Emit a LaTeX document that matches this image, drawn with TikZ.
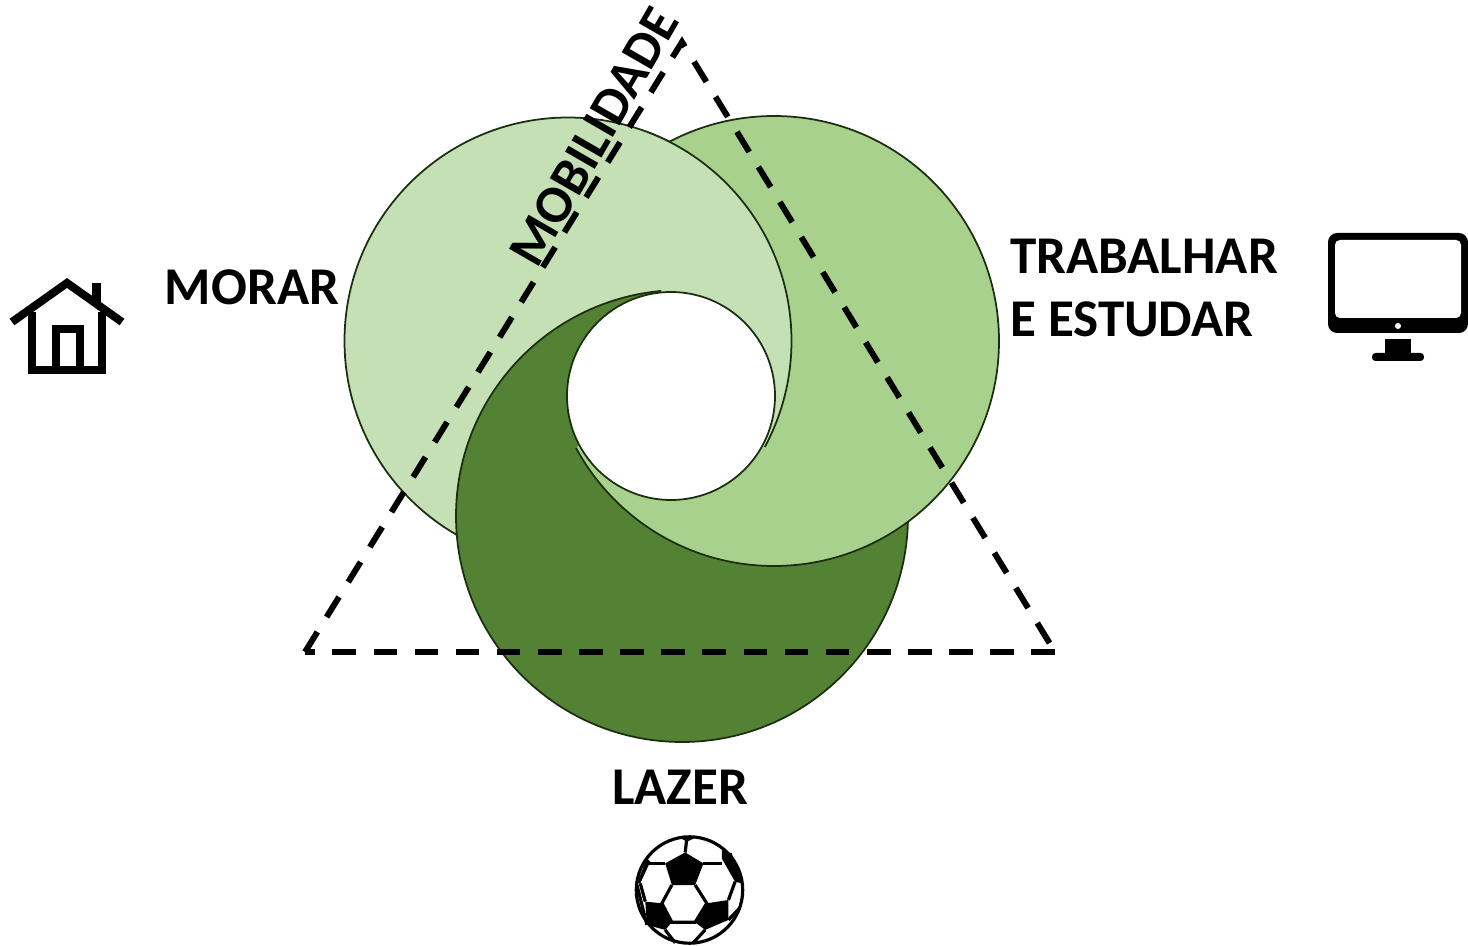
\documentclass[tikz,border=0pt]{standalone}
\usepackage{fontspec}
\setmainfont{Carlito}
\definecolor{claro}{HTML}{C5E0B4}
\definecolor{medio}{HTML}{A9D18E}
\definecolor{escuro}{HTML}{548235}
\definecolor{contorno}{HTML}{1C2E10}
\begin{document}
\begin{tikzpicture}[
	circulo/.style={draw=contorno,line width=0.5pt},
	rotulo/.style={font=\fontsize{15.1}{17.9}\selectfont\bfseries,inner sep=0pt,align=left},
	tracejado/.style={line width=1.7pt,dash pattern=on 6.7pt off 5pt},
	icone/.style={line width=2.3pt,line join=miter},
	bola/.style={line width=0.9pt}]
	\useasboundingbox (0,0) rectangle (14.68,9.46);
	% circulos sobrepostos
	\draw[circulo,fill=claro] (5.68,6.05) circle (2.235);
	\draw[circulo,fill=escuro] (6.82,4.30) circle (2.26);
	\begin{scope}
		\clip (6.71,5.50) -- (6.50,9.40) -- (11,9.40) -- (11,0) -- (4.20,0) -- (4.20,3.40) -- (5.78,5.00) -- cycle;
		\draw[circulo,fill=medio] (7.74,6.05) circle (2.25);
	\end{scope}
	\begin{scope}
		\clip (6.71,5.50) -- (6.35,9.40) -- (11,9.40) -- (11,3.17) -- cycle;
		\draw[circulo,fill=claro] (5.68,6.05) circle (2.235);
	\end{scope}
	% furo central
	\draw[circulo,fill=white] (6.71,5.50) circle (1.04);
	% triangulo tracejado
	\coordinate (esq) at (3.05,2.94);
	\coordinate (dir) at (10.55,2.94);
	\coordinate (topo) at (6.82,9.04);
	\draw[tracejado] (esq) -- (topo) -- (dir);
	\draw[tracejado] (dir) -- (esq);
	% rotulos
	\node[rotulo] (morar) at (2.52,6.59) {MORAR};
	\node[rotulo] (trabalhar) at (11.44,6.58) {TRABALHAR\\E ESTUDAR};
	\node[rotulo] (lazer) at (6.80,1.59) {LAZER};
	\node[rotulo,rotate=60] (mobilidade) at (5.94,8.09) {MOBILIDADE};
	% casa
	\draw[icone] (0.12,6.24) -- (0.67,6.63) -- (1.22,6.24);
	\draw[icone] (0.32,6.34) -- (0.32,5.76) -- (1.02,5.76) -- (1.02,6.34);
	\draw[icone] (0.56,5.76) -- (0.56,6.17) -- (0.80,6.17) -- (0.80,5.76);
	\fill (0.92,6.43) rectangle (1.01,6.63);
	% monitor
	\fill[rounded corners=2.6pt] (13.28,6.13) rectangle (14.68,7.13);
	\fill[white,rounded corners=1.4pt] (13.35,6.28) rectangle (14.61,7.06);
	\fill[white] (13.98,6.20) circle (0.03);
	\fill (13.85,5.93) rectangle (14.11,6.07);
	\fill[rounded corners=1pt] (13.72,5.85) rectangle (14.24,5.93);
	% bola
	\begin{scope}[shift={(6.895,0.56)},x=0.00333cm,y=-0.00333cm]
		\draw[bola] (0,0) circle (160);
		\fill (-73,-80) -- (-13,-113) -- (42,-80) -- (17,-15) -- (-53,-15) -- cycle;
		\fill (-158,-20) -- (-128,-95) -- (-118,-85) -- (-148,-20) -- cycle;
		\fill (97,-120) -- (127,-110) -- (157,-20) -- (137,-25) -- (97,-95) -- cycle;
		\fill (-133,35) -- (-83,40) -- (-53,97) -- (-73,120) -- (-128,105) -- cycle;
		\fill (52,40) -- (117,30) -- (117,90) -- (47,120) -- (17,97) -- cycle;
		\fill (-28,-157) -- (17,-157) -- (-8,-145) -- cycle;
		\draw[bola] (-13,-113) -- (-8,-155);
		\draw[bola] (42,-80) -- (97,-80);
		\draw[bola] (-123,-80) -- (-73,-80);
		\draw[bola] (137,-25) -- (117,30);
		\draw[bola] (-53,-15) -- (-83,40) -- (-53,97) -- (17,97) -- (52,40) -- (17,-15);
		\draw[bola] (-148,-20) -- (-133,35);
		\draw[bola] (-158,-15) -- (-128,105);
		\draw[bola] (-73,120) -- (-43,159);
		\draw[bola] (47,120) -- (11,159);
		\draw[bola] (117,90) -- (150,55);
	\end{scope}
\end{tikzpicture}
\end{document}
